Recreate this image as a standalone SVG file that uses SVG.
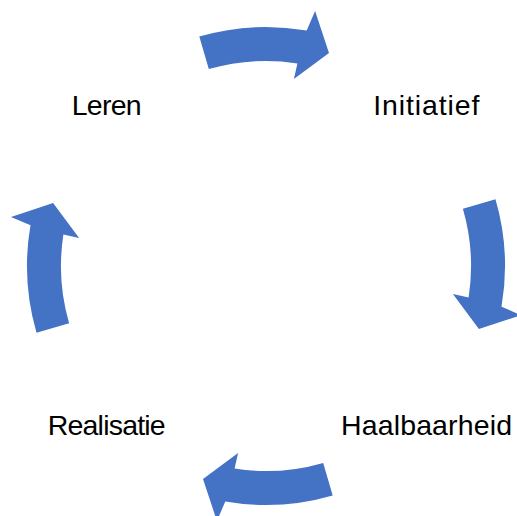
<svg xmlns="http://www.w3.org/2000/svg" xmlns:xlink="http://www.w3.org/1999/xlink" width="517" height="516" viewBox="0 0 517 516">
<style>
.arrow{fill:#4472C4;stroke:none}
.lbl{font-family:"Liberation Sans","Open Sans",sans-serif;font-size:28.5px;fill:#000;text-anchor:middle}
</style>
<defs>
<path id="arc" class="arrow" d="M 199.3 36.5 A 239 239 0 0 1 306.7 30.5 L 315.1 11 L 329 53.1 L 293.9 79.1 L 297.4 63.4 A 205 205 0 0 0 208.8 69.1 Z"/>
</defs>
<rect width="517" height="516" fill="#fff"/>
<g id="connectors">
<use xlink:href="#arc"/>
<use xlink:href="#arc" transform="rotate(90 266 266)"/>
<use xlink:href="#arc" transform="rotate(180 266 266)"/>
<use xlink:href="#arc" transform="rotate(270 266 266)"/>
</g>
<g id="leren"><text class="lbl" x="106.7" y="115" textLength="70" lengthAdjust="spacing">Leren</text></g>
<g id="initiatief"><text class="lbl" x="426.3" y="115" textLength="106" lengthAdjust="spacing">Initiatief</text></g>
<g id="haalbaarheid"><text class="lbl" x="426.5" y="435" textLength="171" lengthAdjust="spacing">Haalbaarheid</text></g>
<g id="realisatie"><text class="lbl" x="106.7" y="435" textLength="118" lengthAdjust="spacing">Realisatie</text></g>
</svg>
